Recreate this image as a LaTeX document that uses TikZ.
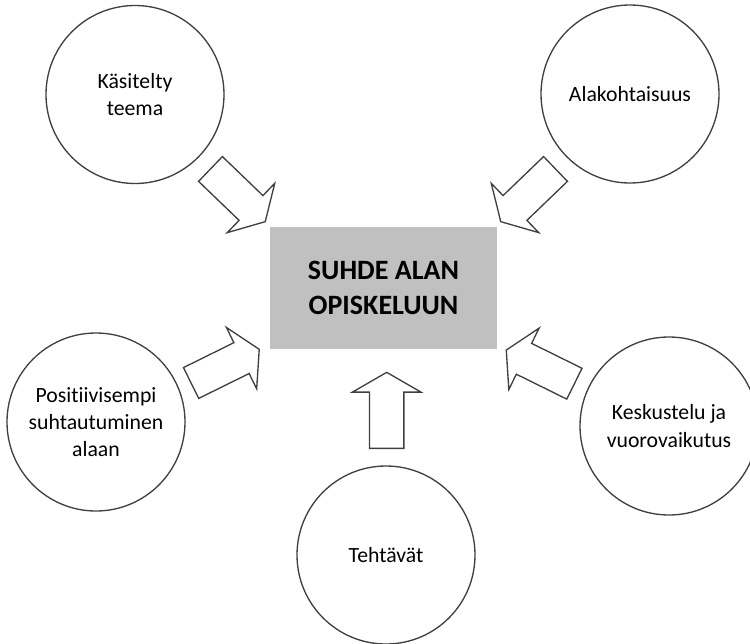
\documentclass[tikz,border=0pt]{standalone}
\usepackage{fontspec}
\setmainfont{Carlito}[Ligatures=NoCommon]
\usepackage{tikz}
\usetikzlibrary{shapes.arrows}
\definecolor{linegray}{HTML}{404040}
\definecolor{boxgray}{HTML}{C0C0C0}

\begin{document}
\begin{tikzpicture}[x=0.75pt, y=-0.75pt,
  bubble/.style={draw=linegray, line width=1pt, circle, minimum size=133.5pt, inner sep=0pt, align=center, font=\fontsize{16.3}{20.3}\selectfont},
  core/.style={fill=boxgray, minimum width=170.25pt, minimum height=91.5pt, align=center, font=\fontsize{21}{26.5}\selectfont\bfseries},
  blockarr/.style={draw=linegray, line width=1pt, single arrow, single arrow head extend=12.75pt, single arrow tip angle=120, inner xsep=0pt, inner ysep=12.4pt, minimum height=57pt, anchor=tail}]
  \useasboundingbox (0,0) rectangle (750,643);
  % centre box
  \node[core] (topic) at (383.5,288) {SUHDE ALAN\\OPISKELUUN};
  % the five factors
  \node[bubble] (theme) at (135,94.5) {Käsitelty\\teema};
  \node[bubble] (field) at (630,94) {Alakohtaisuus};
  \node[bubble] (attitude) at (96,422) {Positiivisempi\\suhtautuminen\\alaan};
  \node[bubble] (tasks) at (386,555) {Tehtävät};
  \node[bubble] (talk) at (669,426) {Keskustelu ja\\vuorovaikutus};
  % block arrows towards the box
  \node[blockarr, rotate=-43.9] (arrTheme) at (210,168.5) {};
  \node[blockarr, rotate=-136.1] (arrField) at (556,168.5) {};
  \node[blockarr, rotate=26.3] (arrAttitude) at (190.5,383.3) {};
  \node[blockarr, rotate=90] (arrTasks) at (386.7,449) {};
  \node[blockarr, rotate=153.7] (arrTalk) at (575,384) {};
\end{tikzpicture}
\end{document}
